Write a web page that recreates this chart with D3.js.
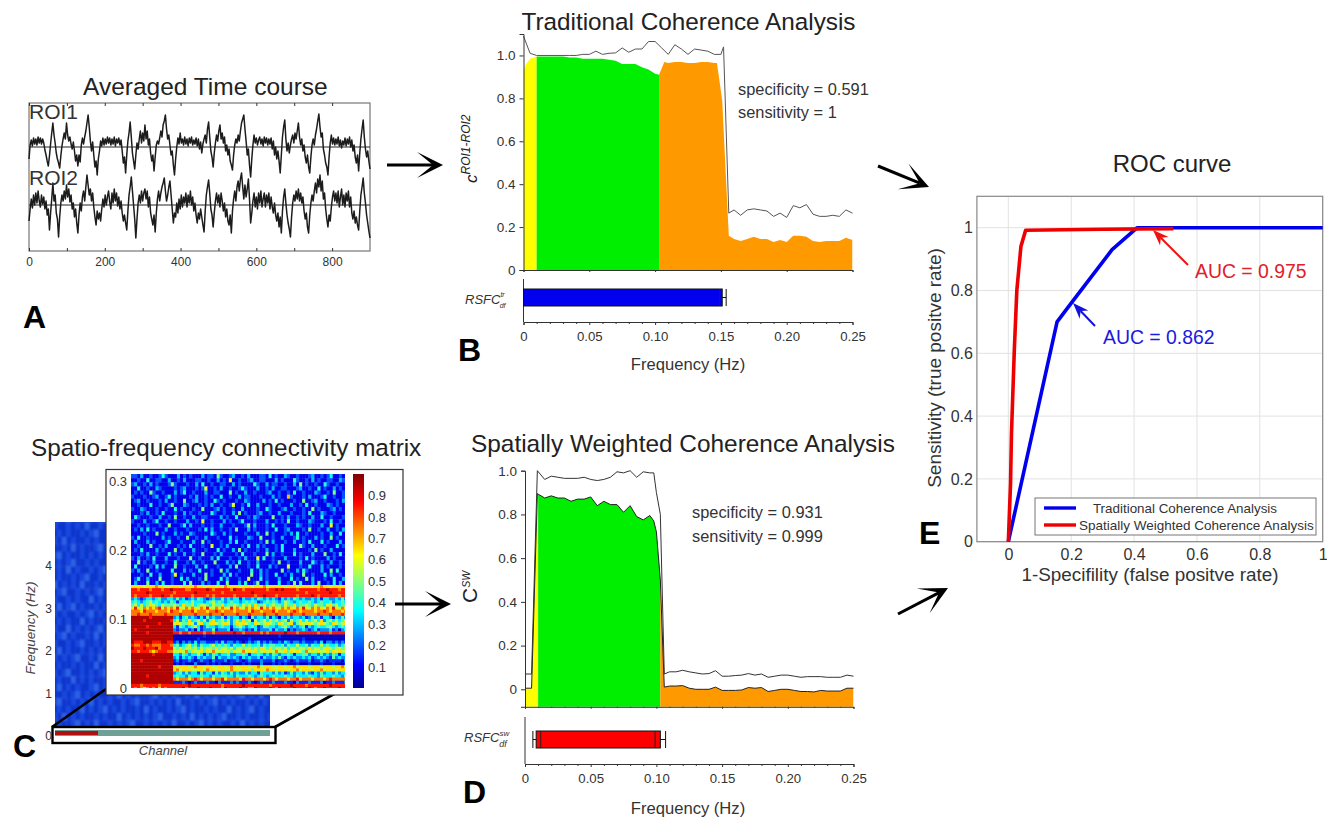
<!DOCTYPE html>
<html lang="en">
<head>
  <meta charset="UTF-8" />
  <title>Coherence analysis figure</title>
  <script src="https://d3js.org/d3.v7.min.js" charset="utf-8"></script>
  <style type="text/css">
  html, body { margin: 0; padding: 0; background: #fff; }
  svg { display: block; font-family: "Liberation Sans", Arial, sans-serif; }
  .axis path, .axis line { fill: none; stroke: #333; }
  .axis text { font-family: "Liberation Sans", Arial, sans-serif; fill: #333; }
  </style>
</head>
<body>
<script type="text/javascript">

// ---- A: averaged time courses (amplitude in arbitrary units)
var timeMajor = [0, 200, 400, 600, 800];
var timeMinor = [100, 300, 500, 700];
var timeStep = 3;
var roi1 = [-12,2,7,1,9,3,8,2,10,4, 9,3,8,4,-3,-8,-14,-19,-9,3, 14,24,12,4,-6,-12,-16,-21,-9,1, 8,14,8,24,12,6,10,3,-2,5, -4,-14,-8,-19,-8,-15,2,9,3,10,
  16,24,32,20,6,-4,5,-8,-20,-14, -28,-12,-4,6,1,9,2,8,3,10, 4,9,2,8,3,10,1,8,4,9, 2,7,-4,-16,-10,-26,-8,6,14,25, 10,-6,-14,-22,-8,4,-2,8,16,4,
  14,6,22,8,16,2,8,-6,-14,-8, -24,-10,2,6,3,9,16,10,22,26, 32,18,8,12,2,-8,-4,-18,-28,-12, 0,9,3,14,4,8,2,10,3,8, 1,9,4,10,2,7,3,9,1,8,
  -2,5,-6,3,8,12,4,18,25,10, -4,-10,-20,-6,4,12,6,16,22,8, 14,4,10,-4,2,-8,-2,-14,-18,-23, -8,2,8,4,12,6,16,24,28,32, 18,6,-8,-2,-18,-30,-12,2,12,4,
  9,2,7,10,3,8,1,10,4,9, 2,8,3,9,-2,6,-8,0,-12,-4, -14,-26,-8,10,20,27,8,-4,4,-6, 2,8,12,4,14,8,16,24,10,2, 8,-4,2,-10,-16,-8,-20,-26,-10,2,
  8,2,12,18,26,33,20,10,14,-2, -8,-16,-20,-28,-10,4,12,3,9,2, 8,3,10,1,7,-1,6,2,9,1, 8,3,10,0,7,-4,2,-10,-16,-8, -24,-6,8,18,27,10,-2,-10,-4,-14, -22];
var roi2 = [-16,-4,6,-3,10,0,12,2,14,4, -2,10,1,8,-4,4,-10,-4,-25,-8, 6,22,4,10,-8,-14,-32,-12,2,10, 4,14,6,20,8,16,3,10,-4,2, -12,-4,-18,-28,-10,2,-6,8,14,4,
  18,30,20,10,16,4,12,-2,-12,-20, -6,-14,-8,-16,-4,6,-2,10,0,8, 14,3,-4,12,2,16,4,12,-1,8, -4,4,-8,-16,-10,-18,-25,-6,10,18, 28,14,0,-14,-33,-14,2,10,2,14,
  4,12,16,6,14,-2,8,-8,-14,-20, -10,-27,-8,6,14,4,12,18,22,27, 14,4,10,18,24,10,-4,-18,-8,-12, 2,-8,6,-4,10,-2,8,2,12,-2, 10,2,14,0,8,-6,2,-10,-18,-8,
  -14,-4,-12,-20,-27,-6,10,18,25,12, -4,-10,-22,-8,4,12,2,10,-2,12, 4,-6,2,-12,-4,-16,-20,-10,-28,-6, 6,14,4,18,24,14,26,32,18,6, 20,8,16,26,6,-18,-8,4,12,-2,
  8,-4,12,2,14,-2,6,12,-2,10, 2,12,-4,8,-2,-8,2,-10,-16,-8, -22,-12,-28,-6,8,16,2,-10,-18,-24, -32,-12,2,10,4,14,6,16,4,12, 2,8,-6,-14,-8,-22,-28,-10,2,10,
  4,14,22,12,26,18,30,14,24,6, 12,-4,-14,-22,-10,-16,-2,8,14,4, 12,2,14,-2,8,16,0,10,-2,12, 4,14,-2,8,-8,-14,-6,-18,-12,-20, -25,-6,10,18,27,12,2,-10,-18,-26, -33];

// ---- B: traditional coherence
var bMeanFreq = [0,.002,.005,.01,.015,.02,.025,.03,.035,.04,.045,.05,.055,.06,.065,.07,.075,.08,.085,.09,.095,.1,.103,.107,.11,.115,.12,.125,.13,.135,.14,.145,.147,.151,.156,.16,.165,.17,.175,.18,.185,.19,.195,.2,.205,.21,.215,.22,.225,.23,.235,.24,.245,.25];
var bMean = [.93,.96,.985,.995,.995,.995,.995,.995,.99,.99,.985,.985,.985,.985,.98,.975,.96,.96,.96,.945,.935,.915,.91,.97,.965,.97,.97,.965,.965,.97,.97,.965,.965,.79,.16,.145,.135,.145,.155,.145,.145,.13,.14,.13,.16,.16,.155,.135,.13,.135,.135,.135,.15,.14];
var bUpperFreq = [0,.005,.01,.035,.04,.045,.05,.055,.06,.065,.07,.075,.08,.085,.09,.095,.1,.105,.11,.115,.12,.125,.13,.135,.14,.145,.15,.152,.156,.16,.165,.17,.175,.18,.185,.19,.195,.2,.205,.21,.215,.22,.225,.23,.235,.24,.245,.25];
var bUpper = [1.09,1.01,1.0,1.0,1.0,1.005,1.005,1.02,1.005,1.01,1.012,1.035,1.015,1.03,1.03,1.065,1.065,1.035,1.005,1.05,1.03,1.005,1.03,1.025,1.02,1.005,1.005,1.04,.265,.28,.255,.28,.285,.28,.275,.25,.265,.245,.3,.29,.305,.26,.25,.25,.255,.25,.28,.265];
var bBands = [0, .01, .103, .25];
var bBar = {low: 0, q3: .149, high: .151, whisker: .154};

// ---- D: spatially weighted coherence
var dFreq = [0,.005,.0094,.015,.02,.025,.03,.035,.04,.045,.05,.055,.06,.065,.07,.075,.08,.085,.09,.095,.098,.1,.103,.106,.11,.115,.12,.125,.13,.135,.14,.145,.15,.155,.16,.165,.17,.175,.18,.185,.19,.195,.2,.205,.21,.215,.22,.225,.23,.235,.24,.245,.25];
var dMean = [.005,.005,.895,.875,.885,.875,.875,.86,.87,.87,.88,.84,.86,.845,.845,.81,.84,.79,.775,.795,.77,.72,.5,.01,.015,.015,.017,.005,0,0,0,.01,-.005,-.005,-.005,-.003,.008,.005,.008,-.01,-.005,0,0,-.005,-.01,-.01,-.012,-.005,-.008,-.008,-.008,.005,.005];
var dUpper = [.07,.07,1.0,.96,.975,.97,.965,.965,.965,.97,.96,.955,.96,.97,.995,.99,1.0,.97,.995,.99,.99,.9,.8,.07,.08,.08,.087,.08,.075,.07,.072,.085,.06,.06,.063,.065,.072,.065,.07,.055,.06,.065,.065,.06,.055,.058,.058,.058,.055,.055,.055,.065,.06];
var dBands = [0, .01, .103, .25];
var dBar = {low: .006, q1b: .012, q3: .099, high: .103, whisker: .107};

var bandColors = ["#ffff00", "#00ee00", "#ff9900"];
var freqTicks = [0, .05, .10, .15, .20, .25];
var freqMinor = [.01,.02,.03,.04,.06,.07,.08,.09,.11,.12,.13,.14,.16,.17,.18,.19,.21,.22,.23,.24];
var cohTicks = [0, .2, .4, .6, .8, 1];

// ---- C: connectivity matrices, one digit per cell (tenths of coherence)
var insetNoise = [
"101201100130010210010401100200111020003100120100210016001012010010200110",
"011020010013100020101000201104100120010200011030100210010001200101300100",
"100100300110020010200011001002010500100120011000201000310010201001100210",
"012001020100014100010020300100110020100003100201100100204010010031001002",
"100300100210000101200010150010200100131000200102001100012001003010020100",
"001010041001000201300100020011000401002001000120010010300100021001040010",
"210001001200130100001020010100300100201100010002010061000102000130010010",
"001200100010200100400120010031010001002100002010301000100400120010001020",
"100100030010014000210001010200100150010300200010010002001030010002101000",
"010021000100100301000100400012010010020000100310001200100100401000120103",
"100010200103000100201001000310010020401000120010020001000103000210010002",
"003100010020010400100200110000201003000102100004001020010100200300100010",
"010002001300100100020010500100020100130001000200101040010002100010300100",
"200100100010040001302000100100200010001402000103000100021001000200501000",
"001020301000200100010001030200100104000201000100300120000104001002001020",
"100001000401000201002100000310020100001000200401000102030010000100200300",
"010300100002010010040010020001000301000210040001002000130100020100401000",
"002000201000130001000200401000100203001000010402000100200103000301000201",
"100100040010200010103000100500102000010300201000103000004100200010003010",
"001030000201000401000200010003010020401000100200103000200001040100200001",
"200010200100030100200100400010200001030001000402001000301000200040010300",
"010200103000200010004001000203000100102000503001000200001030100002010004",
"000401002000100300010200100040002010300100200001040010002000310100200100",
"103000010302000400100020030001000204000100300020100050001003000201000103",
"010200400100003000201003000100402000100030020100004010020310000200403000",
"200010030020001501000200040100020301000040020100300102000400100030200100",
"001300200040001003020001040000302000100500030100020003010040200010030020",
"102000400203001000304000201003004000203001400200030010403000204001030200"
];
var insetBands = [
"666656667665566656666766566656576666566656667566666566656666566766566666",
"887888788878898888778888898788888798878888888788989888878888887889888788",
"888889888888887888888988888888788888888898888888888888888878888888988888",
"878888788898878888887888878788888878888887889888788888878888987888888788",
"232123323422332423123243212322423233132232432323213232432322323133223242",
"343234534323243133435333234534323433234343123434323543234334323433423343",
"453534654354445436445345543544634454354536445345443544634454354435645344",
"686576767857676865767657686576765867657676586767657676576865767657686576",
"777687776777687767778677767787677767777687767778677767876777767787677767",
"778777877778777787777877778777877778777877778777877778777877778777877787",
"999999899999992313423213142322413233132042332413203242332312423133203242",
"999989999999983524363453524634535245364515345364534525346353453624535345",
"999999999899995654465256346654565246565436545654365456246556545654365456",
"999998999999993143234531243323433134532343124433234532323413234334532343",
"989999999999992122312031222412223022321213122231322302122321231222312023",
"999998999999998878878888788788888898878888878788888988878888887888788888",
"999999999999990000000000100000000000000000000000010000000000000000000000",
"999999999999990000000010000000000000000100000000000000000100000000000000",
"988899988899881202121312211121312212101212312121121321221211121302212121",
"877887877788873423453424334534343243353433424344334243353342433534334234",
"988898889788885464554535455464554535545545465464554535545546455456545545",
"887888767888775565746556465755656465575656456565755646565475656556465655",
"999999989999993324323353132432334223343133432324323343133442332423243133",
"999999999999992313232132322413223232132322313223242132322323123232142322",
"999899999999991201121012110211120112101211121112011210121112011210111102",
"999999999999990101000200010101000100010100020001010100010001000100010001",
"999999999899996566656766566556656765666566756665566566756665666566656675",
"999999999999996756665566576656665766566646665766566656675666566756665666",
"999999999999992342423314233142432423224233143332423124233242132423324233",
"999998999999993433243334332433443324333432343234333433243334332433343324",
"999999999999997677767876777677867777687767776787677767786777677767877777",
"999999999999991112101211121102111212111210121112111211021112111201121112",
"888788888788888888898888888888788888898888888878888889888878888888988888",
"878767878687888889788898889888798888988779888898798888988889878898888988"
];
var backMatrix = [
"21213112121231121231112123112121311212113121211321",
"12112121311212112121321121212112312121123112121211",
"31212112123112312112112131212311212112131212112312",
"12131211212112121321212112112131121231212112123112",
"21121312112311212112131212131212112121312112121213",
"12312112121213121121212312112121312112312121121312",
"21212311212112131212112121213112121211213121312121",
"11213121121231212131212312112121231121212113121121",
"21211212311212113121211212131212112312112121213112",
"13121213112121211231211231212112121213121231121212",
"21231121212312112121312112121311212312112121231121",
"12112121131212311212121131212121312112123112121213",
"21312312112121213112123112121213112121211213121211",
"12121121231212112131212112312112121231312112121231",
"31212113121121231212131212112123112121121231121213",
"12113121212311212112121312121131212312112121213112",
"21231211213121121231212112131212121121231212131211",
"12112123112121312112121311212112312121131212112123",
"21312112121211231213112121212131121231212112121311",
"12121231121312112121231212112312112121121312123112",
"31211212113121212312112131212121131212312112121213",
"12123112121231121212131212311212112121213112312112",
"21211312121121312112312112121231212113121212112123",
"11312121123121212113121212113121231121212311212131",
"21121231212112131212112312121121312121121231213112",
"12311212131212112123112121213112121231212112121211",
"21212113121231212112131211212312112121131212312112",
"12131212112121131212121231121213121212311212112121",
"21211231213112121231121212131121231212112131212113",
"12121121212311212113121231212112121131212123112121"
];
var backLevels = [1, 2, 3];
var backColors = ["#0c36cc", "#1446de", "#2c62e6"];

var cbStops = [0, .11, .36, .62, .87, 1];
var cbColors = ["#00008f", "#0000ff", "#00ffff", "#ffff00", "#ff0000", "#800000"];
var cbTicks = [.1, .2, .3, .4, .5, .6, .7, .8, .9];
var insetTicks = [0, .1, .2, .3];
var backTicks = [0, 1, 2, 3, 4];

// ---- E: ROC
var rocTradX = [0, .155, .2, .33, .41, 1];
var rocTradY = [0, .7, .76, .93, 1, 1];
var rocSwX = [0, .007, .01, .019, .027, .04, .055, .3, .525];
var rocSwY = [0, .185, .345, .61, .8, .94, .992, .995, .997];
var rocTicks = [0, .2, .4, .6, .8, 1];

var svg = d3.select("body").append("svg")
  .attr("width", 1327)
  .attr("height", 817);

var defs = svg.append("defs");
defs.append("filter").attr("id", "soft")
  .append("feGaussianBlur").attr("stdDeviation", 0.7);
defs.append("filter").attr("id", "softer")
  .append("feGaussianBlur").attr("stdDeviation", 1.2);

function label(x, y, s, size, opts) {
  opts = opts || {};
  return svg.append("text")
    .attr("x", x).attr("y", y)
    .attr("font-size", size)
    .attr("text-anchor", opts.anchor || "start")
    .attr("font-style", opts.italic ? "italic" : null)
    .attr("fill", opts.fill || "#222")
    .attr("transform", opts.rotate ? "rotate(" + opts.rotate + "," + x + "," + y + ")" : null)
    .text(s);
}

function arrow(x1, y1, x2, y2, back, lat, notch, width, color) {
  var a = Math.atan2(y2 - y1, x2 - x1);
  function pt(b, l) {
    return [x2 - b * Math.cos(a) - l * Math.sin(a), y2 - b * Math.sin(a) + l * Math.cos(a)];
  }
  svg.append("line")
    .attr("x1", x1).attr("y1", y1)
    .attr("x2", pt(notch, 0)[0]).attr("y2", pt(notch, 0)[1])
    .attr("stroke", color).attr("stroke-width", width);
  svg.append("path")
    .attr("d", d3.line()([[x2, y2], pt(back, lat), pt(notch, 0), pt(back, -lat)]) + "Z")
    .attr("fill", color);
}

// ======== A
var tx = d3.scaleLinear().domain([0, 900]).range([29, 370]);
var ty = d3.scaleLinear().domain([0, 148]).range([251, 103]);
var traceLine = d3.line()
  .x(function(d, i) { return tx(i * timeStep); })
  .y(function(d) { return d; });

svg.append("rect").attr("x", tx(0)).attr("y", ty(148))
  .attr("width", tx(900) - tx(0)).attr("height", ty(0) - ty(148))
  .attr("fill", "none").attr("stroke", "#777").attr("stroke-width", 1.2);

var timeBottom = svg.append("g").attr("class", "axis")
  .attr("transform", "translate(0," + ty(0) + ")")
  .call(d3.axisBottom(tx).tickValues(timeMajor).tickSize(-3).tickPadding(6).tickFormat(d3.format("d")));
timeBottom.select(".domain").remove();
timeBottom.selectAll("text").attr("font-size", 12).attr("fill", "#444");
svg.append("g").attr("class", "axis")
  .attr("transform", "translate(0," + ty(0) + ")")
  .call(d3.axisBottom(tx).tickValues(timeMinor).tickSize(-3).tickFormat(""))
  .select(".domain").remove();
svg.append("g").attr("class", "axis")
  .attr("transform", "translate(0," + ty(148) + ")")
  .call(d3.axisTop(tx).tickValues(timeMajor.concat(timeMinor)).tickSize(-3).tickFormat(""))
  .select(".domain").remove();

[[roi1, 104], [roi2, 46]].forEach(function(t) {
  svg.append("path")
    .attr("d", traceLine(t[0].map(function(v) { return ty(t[1] + v); })))
    .attr("fill", "none").attr("stroke", "#1c1c1c").attr("stroke-width", 1.5)
    .attr("stroke-linejoin", "round");
  svg.append("line")
    .attr("x1", tx(0)).attr("x2", tx(900))
    .attr("y1", ty(t[1])).attr("y2", ty(t[1]))
    .attr("stroke", "#222").attr("stroke-width", 1);
});
label(29, 119, "ROI1", 21, {fill: "#333"});
label(29, 185, "ROI2", 21, {fill: "#333"});
label(83, 95, "Averaged Time course", 24.5, {});
label(23, 328, "A", 32, {fill: "#000"}).attr("font-weight", "bold");

// ======== B and D share the same layout routine
function coherencePanel(p) {
  var x = d3.scaleLinear().domain([0, .25]).range([p.x0, p.x1]);
  var y = d3.scaleLinear().domain([p.yBottom, p.yTop]).range([p.yBottomPx, p.yTopPx]);

  var area = d3.area()
    .x(function(d) { return x(d[0]); })
    .y0(y(p.yBottom))
    .y1(function(d) { return y(d[1]); });
  var meanPts = d3.zip(p.meanFreq, p.mean);

  p.bands.slice(0, 3).forEach(function(b, i) {
    var id = p.id + "band" + i;
    defs.append("clipPath").attr("id", id).append("rect")
      .attr("x", x(b)).attr("y", 0)
      .attr("width", x(p.bands[i + 1]) - x(b)).attr("height", 817);
    svg.append("path")
      .attr("d", area(meanPts))
      .attr("fill", bandColors[i])
      .attr("clip-path", "url(#" + id + ")");
  });

  var lineGen = d3.line().x(function(d) { return x(d[0]); }).y(function(d) { return y(d[1]); });
  if (p.meanStroke) {
    svg.append("path").attr("d", lineGen(meanPts))
      .attr("fill", "none").attr("stroke", p.meanStroke).attr("stroke-width", 1);
  }
  svg.append("path").attr("d", lineGen(d3.zip(p.upperFreq, p.upper)))
    .attr("fill", "none").attr("stroke", p.upperStroke).attr("stroke-width", 1);

  var yAxis = svg.append("g").attr("class", "axis")
    .attr("transform", "translate(" + p.x0 + ",0)")
    .call(d3.axisLeft(y).tickValues(cohTicks).tickSize(4).tickPadding(4)
      .tickFormat(function(d) { return d === 0 ? "0" : d3.format(".1f")(d); }));
  yAxis.selectAll("text").attr("font-size", 13.5);

  svg.append("g").attr("class", "axis")
    .attr("transform", "translate(0," + y(p.yBottom) + ")")
    .call(d3.axisBottom(x).tickValues(freqTicks).tickSize(2).tickFormat(""));
  svg.append("g").attr("class", "axis")
    .attr("transform", "translate(0," + y(p.yBottom) + ")")
    .call(d3.axisBottom(x).tickValues(freqMinor).tickSize(1).tickFormat(""))
    .select(".domain").remove();

  // bar strip
  svg.append("line").attr("x1", p.x0).attr("x2", p.x0)
    .attr("y1", p.barTop).attr("y2", p.barBottom)
    .attr("stroke", "#333");
  var xBottom = svg.append("g").attr("class", "axis")
    .attr("transform", "translate(0," + p.barBottom + ")")
    .call(d3.axisBottom(x).tickValues(freqTicks).tickSize(3).tickPadding(7)
      .tickFormat(function(d) { return d === 0 ? "0" : d3.format(".2f")(d); }));
  xBottom.selectAll("text").attr("font-size", 13.2);
  svg.append("g").attr("class", "axis")
    .attr("transform", "translate(0," + p.barBottom + ")")
    .call(d3.axisBottom(x).tickValues(freqMinor).tickSize(2).tickFormat(""))
    .select(".domain").remove();

  var bd = p.bar;
  var ym = (p.boxTop + p.boxBottom) / 2;
  svg.append("line").attr("x1", x(bd.low)).attr("x2", x(bd.whisker)).attr("y1", ym).attr("y2", ym).attr("stroke", "#111");
  [bd.low, bd.whisker].forEach(function(v) {
    svg.append("line").attr("x1", x(v)).attr("x2", x(v))
      .attr("y1", p.boxTop).attr("y2", p.boxBottom).attr("stroke", "#111");
  });
  svg.append("rect").attr("x", x(p.barStart)).attr("y", p.boxTop)
    .attr("width", x(bd.high) - x(p.barStart)).attr("height", p.boxBottom - p.boxTop)
    .attr("fill", p.barColor).attr("stroke", "#111").attr("stroke-width", 1);
  [bd.q1b, bd.q3].forEach(function(v) {
    if (v === undefined) return;
    svg.append("line").attr("x1", x(v)).attr("x2", x(v))
      .attr("y1", p.boxTop).attr("y2", p.boxBottom).attr("stroke", "#222");
  });
}

coherencePanel({
  id: "b", x0: 523.5, x1: 852.5, yBottom: 0, yTop: 1.1, yBottomPx: 270, yTopPx: 34,
  meanFreq: bMeanFreq, mean: bMean, upperFreq: bUpperFreq, upper: bUpper, bands: bBands,
  upperStroke: "#555", meanStroke: null,
  barTop: 279, barBottom: 322, boxTop: 289, boxBottom: 306, bar: bBar, barStart: 0, barColor: "#0000ee"
});
coherencePanel({
  id: "d", x0: 525, x1: 853.5, yBottom: -.08, yTop: 1, yBottomPx: 706.8, yTopPx: 470.7,
  meanFreq: dFreq, mean: dMean, upperFreq: dFreq, upper: dUpper, bands: dBands,
  upperStroke: "#333", meanStroke: "#222",
  barTop: 717, barBottom: 764, boxTop: 731, boxBottom: 748, bar: dBar, barStart: .0085, barColor: "#ff0000"
});

label(688.5, 30, "Traditional Coherence Analysis", 24.3, {anchor: "middle"});
label(738, 95, "specificity = 0.591", 16.4, {fill: "#333"});
label(738, 118, "sensitivity = 1", 16.4, {fill: "#333"});
label(688, 370, "Frequency (Hz)", 16.6, {anchor: "middle", fill: "#333"});
label(458, 361, "B", 32, {fill: "#000"}).attr("font-weight", "bold");

var cy = label(477, 183, "", 17, {italic: true, rotate: -90, fill: "#222"});
cy.append("tspan").text("c");
cy.append("tspan").attr("font-size", 12).attr("dy", -7).text("ROI1-ROI2");

var brs = label(465, 304, "", 13, {italic: true, fill: "#333"});
brs.append("tspan").text("RSFC");
brs.append("tspan").attr("font-size", 7).attr("dy", -7).text("tr");
brs.append("tspan").attr("font-size", 7).attr("dy", 11).attr("dx", -5).text("df");

label(471, 452, "Spatially Weighted Coherence Analysis", 24.4, {});
label(692, 518, "specificity = 0.931", 16.4, {fill: "#333"});
label(692, 542, "sensitivity = 0.999", 16.4, {fill: "#333"});
label(688, 814, "Frequency (Hz)", 16.6, {anchor: "middle", fill: "#333"});
label(463, 803, "D", 32, {fill: "#000"}).attr("font-weight", "bold");

var csw = label(477, 603, "", 21, {rotate: -90, fill: "#222"});
csw.append("tspan").text("C");
csw.append("tspan").attr("font-size", 10.5).attr("font-style", "italic").attr("dy", -7).text("SW");

var drs = label(464, 742, "", 13, {italic: true, fill: "#333"});
drs.append("tspan").text("RSFC");
drs.append("tspan").attr("font-size", 8).attr("dy", -6).text("sw");
drs.append("tspan").attr("font-size", 9).attr("dy", 11).attr("dx", -10).text("df");

// ======== C
var jet = d3.scaleLinear().domain(cbStops).range(cbColors).clamp(true);
var backColor = d3.scaleLinear().domain(backLevels).range(backColors);

function drawGrid(rows, x0, x1, y0, y1, parent, colorOf) {
  var nCols = rows[0].length;
  var cx = d3.scaleBand().domain(d3.range(nCols)).range([x0, x1]);
  var gy = d3.scaleBand().domain(d3.range(rows.length)).range([y0, y1]);
  rows.forEach(function(row, r) {
    parent.selectAll(null)
      .data(row.padEnd(nCols, row[row.length - 1]).slice(0, nCols).split(""))
      .enter().append("rect")
      .attr("x", function(d, i) { return cx(i); })
      .attr("y", gy(r))
      .attr("width", cx.bandwidth() + .4)
      .attr("height", gy.bandwidth() + .4)
      .attr("fill", function(d) { return colorOf(+d); });
  });
}

defs.append("clipPath").attr("id", "backClip").append("rect")
  .attr("x", 55).attr("y", 522).attr("width", 215).attr("height", 206);
var backG = svg.append("g").attr("clip-path", "url(#backClip)")
  .append("g").attr("filter", "url(#softer)");
var backY = d3.scaleLinear().domain([0, 5]).range([736, 523]);
drawGrid(backMatrix, 48, 277, 515, 735, backG, backColor);

// zoom box on the low frequency strip
svg.append("rect").attr("x", 55).attr("y", 730).attr("width", 215).attr("height", 6).attr("fill", "#6fa095");
svg.append("rect").attr("x", 55).attr("y", 731).attr("width", 43).attr("height", 4).attr("fill", "#b01010");
svg.append("rect").attr("x", 52.5).attr("y", 727).attr("width", 223).attr("height", 16)
  .attr("fill", "none").attr("stroke", "#000").attr("stroke-width", 2.4);
svg.append("line").attr("x1", 52).attr("y1", 727).attr("x2", 106).attr("y2", 689)
  .attr("stroke", "#000").attr("stroke-width", 2.6);
svg.append("line").attr("x1", 275).attr("y1", 727).attr("x2", 343).attr("y2", 689)
  .attr("stroke", "#000").attr("stroke-width", 2.6);

var backAxis = svg.append("g").attr("class", "axis")
  .attr("transform", "translate(55,0)")
  .call(d3.axisLeft(backY).tickValues(backTicks).tickSize(0).tickPadding(3).tickFormat(d3.format("d")));
backAxis.select(".domain").remove();
backAxis.selectAll("text").attr("font-size", 12).attr("fill", "#444");
label(35, 628, "Frequency (Hz)", 13.5, {italic: true, rotate: -90, anchor: "middle", fill: "#444"});
label(163, 755, "Channel", 13, {italic: true, anchor: "middle", fill: "#444"});

// inset
svg.append("rect").attr("x", 106).attr("y", 469.5).attr("width", 297).attr("height", 225.5)
  .attr("fill", "#fff").attr("stroke", "#333").attr("stroke-width", 1.2);
defs.append("clipPath").attr("id", "insetClip").append("rect")
  .attr("x", 131).attr("y", 474).attr("width", 214).attr("height", 214);
var insetG = svg.append("g").attr("clip-path", "url(#insetClip)")
  .append("g").attr("filter", "url(#soft)");
drawGrid(insetNoise, 128, 348, 470, 585, insetG, function(d) { return jet(d / 10 + .09); });
drawGrid(insetBands, 131, 347, 585, 690, insetG, function(d) { return jet(d / 10 + .05); });

var insetY = d3.scaleLinear().domain([0, .3]).range([688, 481]);
var insetAxis = svg.append("g").attr("class", "axis")
  .attr("transform", "translate(131,0)")
  .call(d3.axisLeft(insetY).tickValues(insetTicks).tickSize(0).tickPadding(4)
    .tickFormat(function(d) { return d === 0 ? "0" : d3.format(".1f")(d); }));
insetAxis.select(".domain").remove();
insetAxis.selectAll("text").attr("font-size", 13).attr("fill", "#444");

var grad = defs.append("linearGradient").attr("id", "jetBar")
  .attr("x1", 0).attr("y1", 1).attr("x2", 0).attr("y2", 0);
cbStops.forEach(function(s, i) {
  grad.append("stop").attr("offset", s).attr("stop-color", cbColors[i]);
});
svg.append("rect").attr("x", 353).attr("y", 474).attr("width", 11).attr("height", 214)
  .attr("fill", "url(#jetBar)");
var cbY = d3.scaleLinear().domain([0, 1]).range([688.4, 474]);
var cbAxis = svg.append("g").attr("class", "axis")
  .attr("transform", "translate(364,0)")
  .call(d3.axisRight(cbY).tickValues(cbTicks).tickSize(0).tickPadding(4).tickFormat(d3.format(".1f")));
cbAxis.select(".domain").remove();
cbAxis.selectAll("text").attr("font-size", 13).attr("fill", "#444");

label(31, 456, "Spatio-frequency connectivity matrix", 24.3, {});
label(13, 757, "C", 32, {fill: "#000"}).attr("font-weight", "bold");

// ======== E
var rx = d3.scaleLinear().domain([-.1, 1]).range([976.9, 1322.7]);
var ry = d3.scaleLinear().domain([0, 1.1]).range([541.7, 196.3]);

svg.append("g").selectAll("line").data(rocTicks).enter().append("line")
  .attr("x1", rx(-.1)).attr("x2", rx(1))
  .attr("y1", function(d) { return ry(d); }).attr("y2", function(d) { return ry(d); })
  .attr("stroke", "#e2e2e2");
svg.append("g").selectAll("line").data(rocTicks).enter().append("line")
  .attr("x1", function(d) { return rx(d); }).attr("x2", function(d) { return rx(d); })
  .attr("y1", ry(0)).attr("y2", ry(1.1))
  .attr("stroke", "#e2e2e2");
svg.append("rect").attr("x", rx(-.1)).attr("y", ry(1.1))
  .attr("width", rx(1) - rx(-.1)).attr("height", ry(0) - ry(1.1))
  .attr("fill", "none").attr("stroke", "#888").attr("stroke-width", 1.2);

var rocLine = d3.line().x(function(d) { return rx(d[0]); }).y(function(d) { return ry(d[1]); });
svg.append("path").attr("d", rocLine(d3.zip(rocTradX, rocTradY)))
  .attr("fill", "none").attr("stroke", "#0000ee").attr("stroke-width", 3.6).attr("stroke-linejoin", "round");
svg.append("path").attr("d", rocLine(d3.zip(rocSwX, rocSwY)))
  .attr("fill", "none").attr("stroke", "#ee0000").attr("stroke-width", 3.6).attr("stroke-linejoin", "round");

var rocXAxis = svg.append("g").attr("class", "axis")
  .attr("transform", "translate(0," + ry(0) + ")")
  .call(d3.axisBottom(rx).tickValues(rocTicks).tickSize(0).tickPadding(7).tickFormat(function(d) { return d; }));
rocXAxis.select(".domain").remove();
rocXAxis.selectAll("text").attr("font-size", 16);
var rocYAxis = svg.append("g").attr("class", "axis")
  .attr("transform", "translate(" + rx(-.1) + ",0)")
  .call(d3.axisLeft(ry).tickValues(rocTicks).tickSize(0).tickPadding(4).tickFormat(function(d) { return d; }));
rocYAxis.select(".domain").remove();
rocYAxis.selectAll("text").attr("font-size", 16);

label(1172, 172, "ROC curve", 24, {anchor: "middle"});
label(1150, 581, "1-Specifility (false positve rate)", 18.9, {anchor: "middle", fill: "#333"});
label(941, 368, "Sensitivity (true positve rate)", 19, {anchor: "middle", rotate: -90, fill: "#333"});
label(919, 544, "E", 32, {fill: "#000"}).attr("font-weight", "bold");

label(1195, 278, "AUC = 0.975", 19.4, {fill: "#e0202a"});
label(1103, 344, "AUC = 0.862", 19.4, {fill: "#1a1ae0"});
arrow(1188, 265, 1153, 230, 16, 6, 11, 2, "#ee1111");
arrow(1095, 326, 1073, 303, 16, 6, 11, 2, "#1111dd");

// legend
svg.append("rect").attr("x", 1035).attr("y", 498).attr("width", 281).attr("height", 37)
  .attr("fill", "#fff").attr("stroke", "#777");
svg.append("line").attr("x1", 1044).attr("x2", 1076).attr("y1", 508).attr("y2", 508)
  .attr("stroke", "#0000ee").attr("stroke-width", 3.4);
svg.append("line").attr("x1", 1044).attr("x2", 1076).attr("y1", 525).attr("y2", 525)
  .attr("stroke", "#ee0000").attr("stroke-width", 3.4);
label(1185, 513, "Traditional Coherence Analysis", 13.4, {anchor: "middle", fill: "#333"});
label(1079, 530, "Spatially Weighted Coherence Analysis", 13.5, {fill: "#333"});

// ======== panel to panel arrows
arrow(387, 165, 443, 165, 26, 13, 10, 3, "#000");
arrow(878, 166, 929, 187, 28, 14, 10, 3, "#000");
arrow(395, 604, 451, 604, 26, 13, 10, 3, "#000");
arrow(898, 614, 948, 588, 28, 14, 10, 3, "#000");

</script>
</body>
</html>
